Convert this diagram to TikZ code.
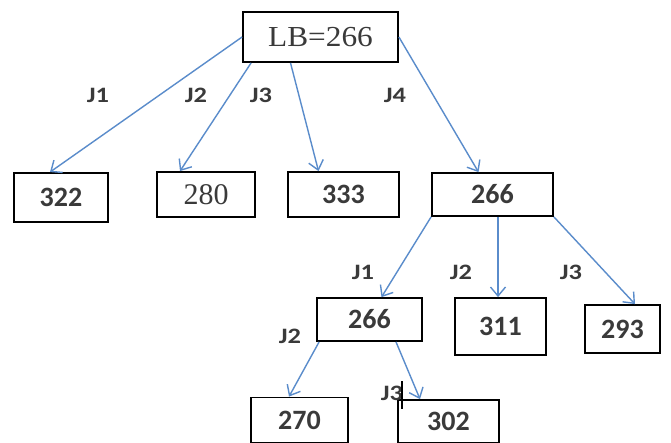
\documentclass[tikz,border=0pt]{standalone}
\usepackage{fontspec}
\setmainfont{Liberation Serif}
\newfontfamily\calfont{Carlito}
\usetikzlibrary{arrows.meta}
\definecolor{edgeblue}{HTML}{5A8CCB}
\definecolor{inkgray}{HTML}{3A3A3A}
\newcommand{\jtext}[1]{\scalebox{1.2}[1]{#1}}
\tikzset{
  box/.style={draw=black, line width=1.8pt, inner sep=0pt, text=inkgray},
  serifbox/.style={box, font=\fontsize{29}{29}\selectfont},
  sansbox/.style={box, font=\calfont\bfseries\fontsize{28}{28}\selectfont},
  edge/.style={draw=edgeblue, line width=1.4pt,
    -{Straight Barb[length=9pt,width=15pt,line width=1.4pt]}},
  jlabel/.style={text=inkgray, font=\calfont\bfseries\fontsize{22}{22}\selectfont, inner sep=0pt},
}
\begin{document}
\begin{tikzpicture}[x=1pt,y=-1pt]
\useasboundingbox (0,0) rectangle (671,443);
\fill[white] (0,0) rectangle (671,443);

% boxes
\node[serifbox, minimum width=155pt, minimum height=50pt] (root) at (320.5,37) {\scalebox{1.08}[1]{LB=266}};
\node[sansbox, minimum width=94pt, minimum height=49pt] (a1) at (61,197.5) {322};
\node[serifbox, minimum width=98pt, minimum height=45pt] (a2) at (206,194.5) {\fontsize{30}{30}\selectfont 280};
\node[sansbox, minimum width=111pt, minimum height=45pt] (a3) at (343.5,194.5) {333};
\node[sansbox, minimum width=121pt, minimum height=43pt] (a4) at (492.5,194.5) {266};
\node[sansbox, minimum width=105pt, minimum height=43pt] (b1) at (369.5,319.5) {266};
\node[sansbox, minimum width=91pt, minimum height=57pt] (b2) at (500.5,326.5) {311};
\node[sansbox, minimum width=75pt, minimum height=48pt] (b3) at (622.5,329) {293};
\node[sansbox, minimum width=97pt, minimum height=45pt] (c1) at (299.5,420) {270};
\node[sansbox, minimum width=101pt, minimum height=43pt] (c2) at (448.5,421.5) {302};

% branches
\draw[edge] (root.west) -- ([xshift=-11pt]a1.north);
\draw[edge] ([xshift=9pt]root.south west) -- ([xshift=-26pt]a2.north);
\draw[edge] ([xshift=-30pt]root.south) -- ([xshift=-25pt]a3.north);
\draw[edge] (root.east) -- ([xshift=-14pt]a4.north);
\draw[edge] (a4.south west) -- ([xshift=12pt]b1.north);
\draw[edge] ([xshift=5.5pt]a4.south) -- ([xshift=-2.5pt]b2.north);
\draw[edge] (a4.south east) -- ([xshift=12.5pt]b3.north);
\draw[edge] ([xshift=3pt]b1.south west) -- ([xshift=-10.5pt]c1.north);
\draw[edge] ([xshift=26.5pt]b1.south) -- ([xshift=-28.5pt]c2.north);

% branch labels
\node[jlabel] (l1) at (98,95) {\jtext{J1}};
\node[jlabel] (l2) at (196,95) {\jtext{J2}};
\node[jlabel] (l3) at (261,95) {\jtext{J3}};
\node[jlabel] (l4) at (395,95) {\jtext{J4}};
\node[jlabel] (m1) at (363,272) {\jtext{J1}};
\node[jlabel] (m2) at (461,272) {\jtext{J2}};
\node[jlabel] (m3) at (571,272) {\jtext{J3}};
\node[jlabel] (n2) at (290,336) {\jtext{J2}};
\node[jlabel] (n3) at (392,393) {\jtext{J3}};

% text cursor
\coordinate (cur) at (402,381);
\draw[black, line width=1.6pt] (cur) -- ++(0,28);
\end{tikzpicture}
\end{document}
